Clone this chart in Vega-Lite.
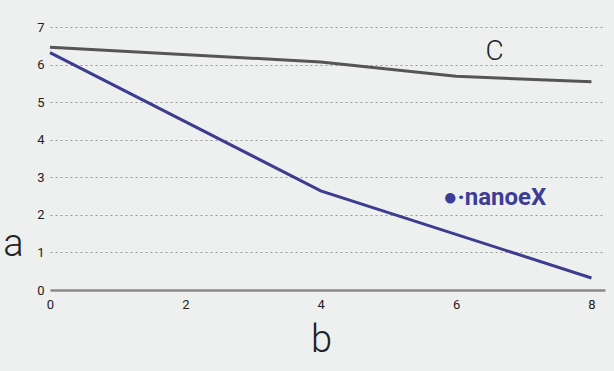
{
  "$schema": "https://vega.github.io/schema/vega-lite/v6.json",
  "autosize": "none",
  "width": 555,
  "height": 263,
  "padding": {"left": 50, "top": 27, "right": 9, "bottom": 81},
  "background": "#edf0ee",
  "config": {"view": {"stroke": null}, "font": "Roboto"},
  "datasets": {
    "lines": [
      {"b": 0, "a": 6.46, "series": "C"},
      {"b": 4, "a": 6.07, "series": "C"},
      {"b": 6, "a": 5.69, "series": "C"},
      {"b": 8, "a": 5.54, "series": "C"},
      {"b": 0, "a": 6.32, "series": "nanoeX"},
      {"b": 4, "a": 2.64, "series": "nanoeX"},
      {"b": 8, "a": 0.32, "series": "nanoeX"}
    ],
    "labels": [
      {"b": 6.57, "a": 6.33, "text": "C", "kind": "c"},
      {"b": 6.57, "a": 2.45, "text": "●·nanoeX", "kind": "logo"}
    ]
  },
  "encoding": {
    "x": {
      "field": "b", "type": "quantitative",
      "scale": {"domain": [0, 8.2], "nice": false, "zero": false},
      "axis": {
        "values": [0, 2, 4, 6, 8], "format": "d", "grid": false, "ticks": false,
        "domainColor": "#888888", "domainWidth": 2.5,
        "labelFontSize": 13, "labelColor": "#222222", "labelPadding": 8,
        "labelFlush": false, "labelOverlap": false,
        "title": "b", "titleFontSize": 38, "titleFontWeight": 300,
        "titleColor": "#222222", "titleX": 271, "titleY": 50,
        "titleBaseline": "middle", "titleAlign": "center"
      }
    },
    "y": {
      "field": "a", "type": "quantitative",
      "scale": {"domain": [0, 7], "nice": false},
      "axis": {
        "values": [0, 1, 2, 3, 4, 5, 6, 7], "format": "d", "domain": false, "ticks": false,
        "grid": true, "gridColor": "#999999", "gridDash": [2, 3], "gridWidth": 1,
        "labelFontSize": 13, "labelColor": "#222222", "labelPadding": 6,
        "labelOverlap": false, "labelFlush": false,
        "title": "a", "titleFontSize": 38, "titleFontWeight": 300,
        "titleColor": "#222222", "titleAngle": 0, "titleX": -37, "titleY": 217,
        "titleBaseline": "middle", "titleAlign": "center"
      }
    }
  },
  "layer": [
    {
      "data": {"name": "lines"},
      "mark": {"type": "line", "strokeWidth": 3},
      "encoding": {
        "color": {
          "field": "series", "type": "nominal",
          "scale": {"domain": ["C", "nanoeX"], "range": ["#555555", "#3d3d8f"]},
          "legend": null
        }
      }
    },
    {
      "data": {"name": "labels"},
      "transform": [{"filter": "datum.kind == 'c'"}],
      "mark": {"type": "text", "fontSize": 28, "fontWeight": 300, "color": "#222222", "baseline": "middle", "align": "center"},
      "encoding": {
        "text": {"field": "text"}
      }
    },
    {
      "data": {"name": "labels"},
      "transform": [{"filter": "datum.kind == 'logo'"}],
      "mark": {"type": "text", "fontSize": 24, "fontWeight": "bold", "color": "#3d3d96", "baseline": "middle", "align": "center"},
      "encoding": {
        "text": {"field": "text"}
      }
    }
  ]
}
